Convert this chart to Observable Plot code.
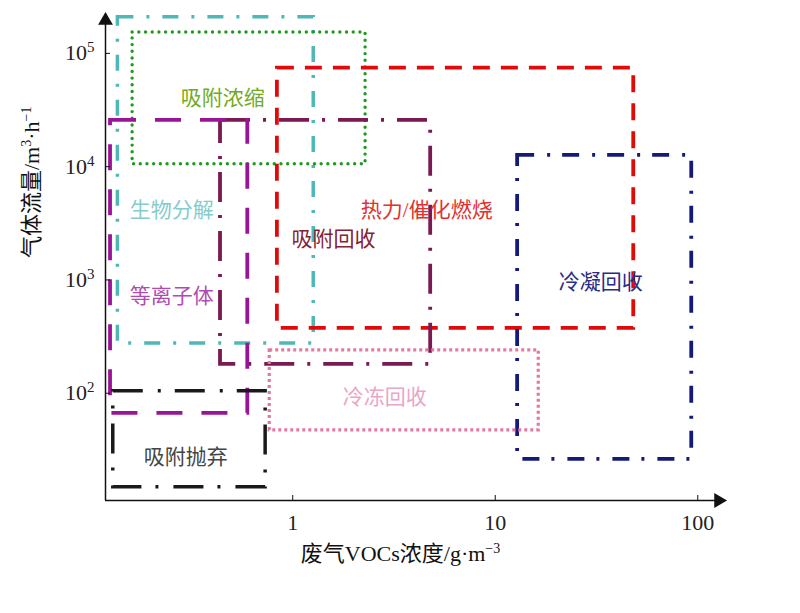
<!DOCTYPE html>
<html>
<head>
<meta charset="utf-8">
<script src="https://cdn.jsdelivr.net/npm/d3@7"></script>
<script src="https://cdn.jsdelivr.net/npm/@observablehq/plot@0.6"></script>
<style>
  html, body { margin: 0; padding: 0; background: #fff; }
  #chart svg { display: block; }
</style>
</head>
<body>
<div id="chart"></div>
<script>
// ---- data ----
const categories = ["生物分解", "吸附浓缩", "热力/催化燃烧", "吸附回收", "等离子体", "冷凝回收", "冷冻回收", "吸附抛弃"];
const concMin = [0.137, 0.162, 0.84, 0.44, 0.126, 12.9, 0.77, 0.13];   // g/m3
const concMax = [1.27, 2.29, 48.3, 4.8, 0.6, 93.4, 16.4, 0.735];
const flowMin = [275, 10500, 374, 180, 66.5, 26.1, 47, 14.8];          // m3/h
const flowMax = [208000, 153000, 74000, 25600, 25600, 12600, 239, 104];
const labelConc = [0.253, 0.451, 4.59, 1.59, 0.253, 33.2, 2.85, 0.296];
const labelFlow = [4110, 40000, 4110, 2280, 716, 953, 92, 27.2];
const xTicks = [1, 10, 100];
const yTicks = [100, 1000, 10000, 100000];
const xDomain = [0.119, 134];
const yDomain = [11.3, 216000];
const xTitle = "废气VOCs浓度/g·m⁻³";
const yTitle = "气体流量/m³·h⁻¹";

// ---- styles ----
const strokeColors = ["#4fb8b6", "#1f9a1f", "#e00a0a", "#7a1a52", "#9a1496", "#141a7a", "#e07aa4", "#1a1a1a"];
const textColors   = ["#86cccb", "#72aa22", "#e23030", "#842236", "#b04cb0", "#2a2c86", "#eaa6c6", "#444444"];
const dashes = ["16,13,3,13", "0,6.7", "17,11", "30,13,3,13", "26,19", "17,13,3,12", "3,3", "30,15,3,14"];
const caps   = ["butt", "round", "butt", "butt", "butt", "butt", "butt", "butt"];
const widths = [3.5, 3.4, 3.8, 3.8, 3.8, 3.8, 3.2, 3.5];

const boxes = categories.map((name, i) => ({
  name, x1: concMin[i], x2: concMax[i], y1: flowMin[i], y2: flowMax[i],
  lx: labelConc[i], ly: labelFlow[i], tc: textColors[i]
}));

const serif = "'Liberation Serif','Times New Roman','Noto Sans CJK SC',serif";
const cjk = "'Liberation Serif','Noto Sans CJK SC',sans-serif";
const SUP = "⁰¹²³⁴⁵⁶⁷⁸⁹⁻";
const NORM = "0123456789−";

const rectMarks = boxes.map((b, i) => Plot.rect([b], {
  x1: "x1", x2: "x2", y1: "y1", y2: "y2",
  fill: "none", stroke: strokeColors[i], strokeWidth: widths[i],
  strokeDasharray: dashes[i], strokeLinecap: caps[i]
}));

const chart = Plot.plot({
  width: 800,
  height: 613,
  marginLeft: 105,
  marginRight: 77,
  marginTop: 15,
  marginBottom: 113,
  x: {type: "log", domain: xDomain},
  y: {type: "log", domain: yDomain},
  marks: [
    ...rectMarks,
    Plot.text(boxes, {
      x: "lx", y: "ly", text: "name", fill: "tc",
      fontSize: 21, fontFamily: cjk, textAnchor: "middle"
    }),
    // axis lines
    Plot.ruleX([xDomain[0]], {stroke: "#111", strokeWidth: 1.5}),
    Plot.ruleY([yDomain[0]], {stroke: "#111", strokeWidth: 1.5}),
    // arrow heads
    Plot.dot([{x: xDomain[1], y: yDomain[0]}], {x: "x", y: "y", symbol: "triangle", r: 5.5, fill: "#111", stroke: "none", rotate: 90, dx: -5}),
    Plot.dot([{x: xDomain[0], y: yDomain[1]}], {x: "x", y: "y", symbol: "triangle", r: 5.5, fill: "#111", stroke: "none", dy: 5}),
    // axes
    Plot.axisX({ticks: xTicks, tickFormat: d => String(d), tickSize: -5, tickPadding: 19,
      fontSize: 22, fontFamily: serif, label: null, stroke: "#111", fill: "#222"}),
    Plot.axisY({ticks: yTicks, tickFormat: d => "10" + SUP[Math.round(Math.log10(d))], tickSize: -5, tickPadding: 16,
      fontSize: 22, fontFamily: serif, label: null, stroke: "#111", fill: "#222"}),
    // axis titles
    Plot.text([xTitle], {frameAnchor: "bottom", dx: -14, dy: 60, fontSize: 22, fontFamily: cjk, fill: "#111"}),
    Plot.text([yTitle], {frameAnchor: "left", dx: -74, rotate: -90, fontSize: 22, fontFamily: cjk, fill: "#111"})
  ]
});
document.getElementById("chart").appendChild(chart);

// turn unicode superscripts into raised tspans (still real text)
function supify(el, supSize, rise) {
  const s = el.textContent;
  if (![...s].some(c => SUP.includes(c))) return;
  while (el.firstChild) el.removeChild(el.firstChild);
  const ns = "http://www.w3.org/2000/svg";
  let runs = [];
  for (const c of s) {
    const sup = SUP.includes(c);
    const ch = sup ? NORM[SUP.indexOf(c)] : c;
    if (runs.length && runs[runs.length - 1].sup === sup) runs[runs.length - 1].t += ch;
    else runs.push({sup, t: ch});
  }
  let raised = false;
  for (const r of runs) {
    const ts = document.createElementNS(ns, "tspan");
    ts.textContent = r.t;
    if (r.sup) {
      ts.setAttribute("font-size", supSize);
      ts.setAttribute("dy", -rise);
      raised = true;
    } else if (raised) {
      ts.setAttribute("dy", rise);
      raised = false;
    }
    el.appendChild(ts);
  }
}
d3.select(chart).selectAll("g[aria-label='y-axis tick label'] text").each(function() { supify(this, 15, 8); });
d3.select(chart).selectAll("text").each(function() {
  const t = this.textContent;
  if (t === xTitle || t === yTitle) supify(this, 14, 8);
});
</script>
</body>
</html>
